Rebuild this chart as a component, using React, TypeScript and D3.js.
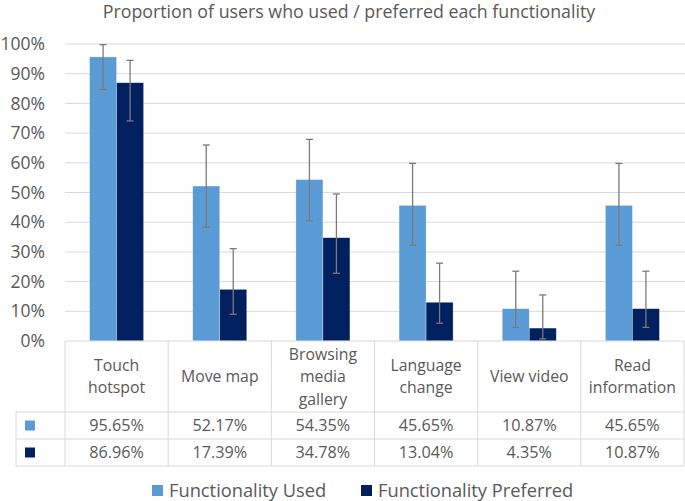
import React from "react";
import * as d3 from "d3";

const title = "Proportion of users who used / preferred each functionality";
const categories = [
  ["Touch", "hotspot"],
  ["Move map"],
  ["Browsing", "media", "gallery"],
  ["Language", "change"],
  ["View video"],
  ["Read", "information"],
];
const seriesNames = ["Functionality Used", "Functionality Preferred"];
const seriesColors = ["#5B9BD5", "#002060"];
const usedValues = [95.65, 52.17, 54.35, 45.65, 10.87, 45.65];
const preferredValues = [86.96, 17.39, 34.78, 13.04, 4.35, 10.87];
const usedLow = [84.7, 38.3, 40.5, 32.2, 4.6, 32.2];
const usedHigh = [99.8, 66.0, 67.9, 59.8, 23.5, 59.8];
const preferredLow = [74.1, 9.0, 22.8, 6.0, 0.7, 4.6];
const preferredHigh = [94.5, 31.1, 49.5, 26.2, 15.5, 23.5];
const yTicks = [0, 10, 20, 30, 40, 50, 60, 70, 80, 90, 100];

const W = 685;
const H = 501;
const plotLeft = 65;
const plotRight = 684;
const yTop = 44;
const yBottom = 341;
const catRowBottom = 412;
const row1Bottom = 439;
const row2Bottom = 466;
const tableLeft = 16;
const textColor = "#595959";
const gridColor = "#d9d9d9";
const font = "'Open Sans', sans-serif";

export default function App() {
  const idx = categories.map((_, i) => String(i));
  const x0 = d3.scaleBand<string>().domain(idx).range([plotLeft, plotRight]).padding(0);
  const x1 = d3
    .scaleBand<string>()
    .domain(["0", "1"])
    .range([0, x0.bandwidth()])
    .paddingInner(0)
    .paddingOuter(0.91);
  const y = d3.scaleLinear().domain([0, 100]).range([yBottom, yTop]);

  const series = [
    { values: usedValues, low: usedLow, high: usedHigh },
    { values: preferredValues, low: preferredLow, high: preferredHigh },
  ];

  const rowMid = [(catRowBottom + row1Bottom) / 2, (row1Bottom + row2Bottom) / 2];

  return (
    <svg width={W} height={H} style={{ position: "absolute", left: 0, top: 0, background: "#fff" }}>
      <rect x={0} y={0} width={W} height={H} fill="#fff" />
      <text x={349} y={18} textAnchor="middle" fontFamily={font} fontSize={17.8} fill={textColor}>
        {title}
      </text>
      {yTicks.map((t) => (
        <g key={t}>
          {t > 0 && (
            <line x1={plotLeft} x2={plotRight + 1} y1={y(t)} y2={y(t)} stroke={gridColor} strokeWidth={1} />
          )}
          <text
            x={45}
            y={y(t)}
            dy="0.35em"
            textAnchor="end"
            fontFamily={font}
            fontSize={17.5}
            fill={textColor}
          >
            {t}%
          </text>
        </g>
      ))}
      {series.map((s, si) =>
        s.values.map((v, i) => {
          const bx = (x0(String(i)) as number) + (x1(String(si)) as number);
          return (
            <rect
              key={`b${si}-${i}`}
              x={bx}
              y={y(v)}
              width={x1.bandwidth()}
              height={y(0) - y(v)}
              fill={seriesColors[si]}
              stroke="#ffffff"
              strokeOpacity={0.5}
              strokeWidth={0.6}
            />
          );
        })
      )}
      {series.map((s, si) =>
        s.values.map((v, i) => {
          const cx = (x0(String(i)) as number) + (x1(String(si)) as number) + x1.bandwidth() / 2;
          const yl = y(s.low[i]);
          const yh = y(s.high[i]);
          return (
            <g key={`e${si}-${i}`} stroke="#7a7a7a" strokeWidth={1.3}>
              <line x1={cx} x2={cx} y1={yh} y2={yl} />
              <line x1={cx - 3.5} x2={cx + 3.5} y1={yh} y2={yh} />
              <line x1={cx - 3.5} x2={cx + 3.5} y1={yl} y2={yl} />
            </g>
          );
        })
      )}
      {/* table */}
      <g stroke={gridColor} strokeWidth={1} fill="none">
        <line x1={plotLeft} x2={plotRight} y1={yBottom} y2={yBottom} />
        <line x1={tableLeft} x2={plotRight} y1={catRowBottom} y2={catRowBottom} />
        <line x1={tableLeft} x2={plotRight} y1={row1Bottom} y2={row1Bottom} />
        <line x1={tableLeft} x2={plotRight} y1={row2Bottom} y2={row2Bottom} />
        <line x1={tableLeft} x2={tableLeft} y1={catRowBottom} y2={row2Bottom} />
        {idx.map((k) => (
          <line key={k} x1={x0(k)} x2={x0(k)} y1={yBottom} y2={row2Bottom} />
        ))}
        <line x1={plotRight} x2={plotRight} y1={yBottom} y2={row2Bottom} />
      </g>
      {categories.map((lines, i) => {
        const cx = (x0(String(i)) as number) + x0.bandwidth() / 2;
        const lh = 22.5;
        const mid = (yBottom + catRowBottom) / 2;
        const start = mid - ((lines.length - 1) * lh) / 2;
        return (
          <text
            key={`c${i}`}
            textAnchor="middle"
            fontFamily={font}
            fontSize={15.8}
            fill={textColor}
          >
            {lines.map((l, j) => (
              <tspan key={j} x={cx} y={start + j * lh} dy="0.35em">
                {l}
              </tspan>
            ))}
          </text>
        );
      })}
      {series.map((s, si) => (
        <g key={`r${si}`}>
          <rect x={25} y={rowMid[si] - 5} width={10} height={10} fill={seriesColors[si]} />
          {s.values.map((v, i) => (
            <text
              key={i}
              x={(x0(String(i)) as number) + x0.bandwidth() / 2}
              y={rowMid[si]}
              dy="0.35em"
              textAnchor="middle"
              fontFamily={font}
              fontSize={16.2}
              fill={textColor}
            >
              {v.toFixed(2)}%
            </text>
          ))}
        </g>
      ))}
      {/* legend */}
      {seriesNames.map((n, si) => {
        const lx = si === 0 ? 152 : 361;
        return (
          <g key={`l${si}`}>
            <rect x={lx} y={485} width={11} height={11} fill={seriesColors[si]} />
            <text x={lx + 17} y={490.5} dy="0.35em" fontFamily={font} fontSize={18.3} fill={textColor}>
              {n}
            </text>
          </g>
        );
      })}
    </svg>
  );
}
